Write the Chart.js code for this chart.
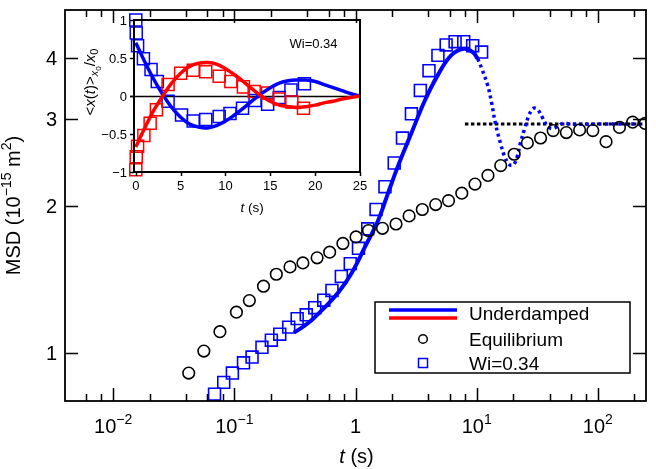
<!DOCTYPE html>
<html>
<head>
<meta charset="utf-8">
<script src="https://cdn.jsdelivr.net/npm/chart.js@4.4.1/dist/chart.umd.min.js"></script>
<style>
html,body{margin:0;padding:0;background:#fff;}
#wrap{position:relative;width:656px;height:469px;overflow:hidden;}
#main{position:absolute;left:0;top:0;}
#inset{position:absolute;left:70px;top:6px;}
</style>
</head>
<body>
<div id="wrap">
<canvas id="main" width="656" height="469"></canvas>
<canvas id="inset" width="300" height="214"></canvas>
</div>
<script>
/* =====================================
   MSD vs t  (main)  +  inset <x(t)>/x0
===================================== */

const FONT = '"Liberation Sans", Arial, Helvetica, sans-serif';

/* ---------- main data ---------- */

// Equilibrium (black circles)
const eqT = [0.042, 0.056, 0.076, 0.104, 0.133, 0.174, 0.222, 0.288, 0.368, 0.482, 0.612, 0.787, 1.01, 1.28, 1.67, 2.16, 2.77, 3.56, 4.59, 5.86, 7.54, 9.69, 12.4, 15.8, 20.4, 26.2, 33.7, 42.8, 55.0, 70.8, 91.0, 117, 151, 194, 246];
const eqMSD = [0.912, 1.011, 1.107, 1.213, 1.281, 1.370, 1.449, 1.500, 1.528, 1.565, 1.607, 1.674, 1.726, 1.779, 1.797, 1.834, 1.905, 1.963, 2.009, 2.046, 2.119, 2.211, 2.303, 2.411, 2.543, 2.682, 2.744, 2.841, 2.815, 2.850, 2.841, 2.698, 2.884, 2.956, 2.938];

// Wi=0.34 (blue squares)
const wiT = [0.0686, 0.0817, 0.0963, 0.119, 0.140, 0.169, 0.202, 0.237, 0.281, 0.330, 0.392, 0.461, 0.547, 0.639, 0.764, 0.905, 1.058, 1.261, 1.478, 1.751, 2.087, 2.442, 2.894, 3.429, 4.043, 4.79, 5.60, 6.64, 7.82, 9.27, 10.99];
const wiMSD = [0.826, 0.873, 0.912, 0.957, 0.983, 1.029, 1.064, 1.094, 1.131, 1.177, 1.198, 1.239, 1.283, 1.343, 1.434, 1.523, 1.636, 1.793, 1.963, 2.184, 2.441, 2.744, 3.074, 3.429, 3.763, 4.042, 4.245, 4.31, 4.31, 4.23, 4.105];

// Underdamped fit (solid part)
const fitT = [0.31, 0.375, 0.438, 0.565, 0.726, 0.933, 1.20, 1.54, 1.86, 2.25, 2.89, 3.73, 4.79, 6.16, 7.82, 9.27, 10.2];
const fitMSD = [1.102, 1.136, 1.171, 1.245, 1.333, 1.46, 1.649, 1.867, 2.122, 2.411, 2.806, 3.268, 3.689, 4.042, 4.168, 4.105, 3.98];

// Underdamped fit (dotted continuation)
const extT = [10.2, 11.0, 12.3, 13.27, 14.31, 15.73, 16.96, 18.3, 19.36, 20.49, 21.69, 22.95, 24.74, 26.68, 28.78, 30.45, 32.2, 34.75, 38.2, 41.98, 46.1, 51.7, 61.2, 118.6, 238];
const extMSD = [3.98, 3.804, 3.52, 3.243, 2.933, 2.677, 2.523, 2.433, 2.411, 2.433, 2.523, 2.677, 2.854, 3.028, 3.141, 3.156, 3.126, 3.028, 2.907, 2.867, 2.893, 2.940, 2.927, 2.93, 2.93];

// plateau (black dotted)
const plateauT = [8.0, 240];
const plateauMSD = [2.93, 2.93];

// axes
const xTickVals = [0.01, 0.1, 1, 10, 100];
const xTickBase = ['10', '10', '1', '10', '10'];
const xTickExp = ['\u22122', '\u22121', '', '1', '2'];
const yTickVals = [1, 2, 3, 4];
const yTickLabels = ['1', '2', '3', '4'];

const legendLabels = ['Underdamped', 'Equilibrium', 'Wi=0.34'];

/* ---------- inset data ---------- */

const insT = [0, 1, 2, 3, 4, 5, 6, 7, 8, 9, 10, 11, 12, 13, 14, 15, 16, 17, 18, 19, 20, 21, 22, 23, 24, 25];
const insBlueLine = [0.70, 0.45, 0.22, 0.02, -0.15, -0.28, -0.37, -0.41, -0.42, -0.39, -0.33, -0.25, -0.16, -0.06, 0.03, 0.11, 0.17, 0.20, 0.21, 0.21, 0.19, 0.15, 0.11, 0.07, 0.03, 0.0];
const insRedLine = [-0.67, -0.42, -0.19, 0.0, 0.17, 0.30, 0.39, 0.43, 0.44, 0.42, 0.36, 0.28, 0.19, 0.09, 0.0, -0.07, -0.12, -0.14, -0.15, -0.14, -0.12, -0.09, -0.07, -0.04, -0.02, 0.0];

const insBlueSqT = [0, 0.05, 0.2, 0.85, 1.7, 2.4, 3.6, 5.1, 6.4, 7.8, 9.3, 10.5, 11.9, 13.3, 14.7, 16.0, 17.3, 18.8];
const insBlueSq = [1.0, 0.83, 0.66, 0.49, 0.35, 0.19, -0.07, -0.25, -0.33, -0.31, -0.27, -0.23, -0.16, -0.06, -0.11, -0.02, 0.08, 0.16];
const insRedSqT = [0, 0.05, 0.2, 0.9, 1.6, 2.3, 3.6, 5.0, 6.4, 7.8, 9.3, 10.6, 12.0, 13.2, 14.7, 16.0, 17.4, 18.7];
const insRedSq = [-0.97, -0.80, -0.66, -0.52, -0.36, -0.18, 0.15, 0.30, 0.34, 0.32, 0.26, 0.19, 0.12, 0.06, 0.04, -0.04, -0.08, -0.16];

const insXTicks = [0, 5, 10, 15, 20, 25];
const insYTicks = [-1, -0.5, 0, 0.5, 1];
const insYLabels = ['\u22121', '\u22120.5', '0', '0.5', '1'];

/* ---------- helpers ---------- */

function pts(xs, ys){
    return xs.map((v, i) => ({x: v, y: ys[i]}));
}

function richWidth(ctx, parts){
    let w = 0;
    parts.forEach(p => { ctx.font = p.f; w += ctx.measureText(p.t).width; });
    return w;
}

function drawRich(ctx, parts, x, y, align){
    const w = richWidth(ctx, parts);
    let cx = align === 'center' ? x - w / 2 : (align === 'right' ? x - w : x);
    ctx.textAlign = 'left';
    ctx.textBaseline = 'alphabetic';
    parts.forEach(p => {
        ctx.font = p.f;
        ctx.fillText(p.t, cx, y + (p.dy || 0));
        cx += ctx.measureText(p.t).width;
    });
}

/* ---------- main frame / ticks / labels / legend ---------- */

const mainDecor = {
    id: 'mainDecor',
    afterDatasetsDraw(chart){
        const {ctx, chartArea: a} = chart;
        const x = chart.scales.x, y = chart.scales.y;
        ctx.save();
        ctx.strokeStyle = '#000';
        ctx.fillStyle = '#000';
        ctx.lineWidth = 1.8;
        ctx.strokeRect(a.left, a.top, a.right - a.left, a.bottom - a.top);

        // x ticks (inward, bottom + top)
        ctx.lineWidth = 1.5;
        const drawX = (v, len) => {
            const px = Math.round(x.getPixelForValue(v)) + 0.5;
            ctx.beginPath();
            ctx.moveTo(px, a.bottom); ctx.lineTo(px, a.bottom - len);
            ctx.moveTo(px, a.top); ctx.lineTo(px, a.top + len);
            ctx.stroke();
        };
        for(let e = -3; e <= 2; e++){
            [2, 4, 6, 8].forEach(m => {
                const v = m * Math.pow(10, e);
                if(v > x.min && v < x.max) drawX(v, 7);
            });
        }
        xTickVals.forEach(v => drawX(v, 13));

        // y ticks (inward, left + right)
        yTickVals.forEach(v => {
            const py = Math.round(y.getPixelForValue(v)) + 0.5;
            ctx.beginPath();
            ctx.moveTo(a.left, py); ctx.lineTo(a.left + 13, py);
            ctx.moveTo(a.right, py); ctx.lineTo(a.right - 13, py);
            ctx.stroke();
        });

        // tick labels
        const big = '20px ' + FONT, small = '14px ' + FONT;
        xTickVals.forEach((v, i) => {
            const parts = [{t: xTickBase[i], f: big}];
            if(xTickExp[i]) parts.push({t: xTickExp[i], f: small, dy: -9});
            drawRich(ctx, parts, x.getPixelForValue(v), 433, 'center');
        });
        yTickVals.forEach((v, i) => {
            drawRich(ctx, [{t: yTickLabels[i], f: big}], 57, y.getPixelForValue(v) + 7, 'right');
        });

        // axis titles
        drawRich(ctx, [
            {t: 't', f: 'italic 20px ' + FONT},
            {t: ' (s)', f: big}
        ], (a.left + a.right) / 2 + 1, 463, 'center');

        ctx.save();
        ctx.translate(13, (a.top + a.bottom) / 2);
        ctx.rotate(-Math.PI / 2);
        drawRich(ctx, [
            {t: 'MSD (10', f: big},
            {t: '\u221215', f: small, dy: -9},
            {t: ' m', f: big},
            {t: '2', f: small, dy: -9},
            {t: ')', f: big}
        ], 0, 7, 'center');
        ctx.restore();

        // legend
        const lx = 375, ly = 302, lw = 255, lh = 71;
        ctx.fillStyle = '#fff';
        ctx.fillRect(lx, ly, lw, lh);
        ctx.lineWidth = 1.5;
        ctx.strokeStyle = '#000';
        ctx.strokeRect(lx, ly, lw, lh);

        ctx.lineWidth = 3.5;
        ctx.strokeStyle = '#0000ff';
        ctx.beginPath(); ctx.moveTo(389, 310); ctx.lineTo(457, 310); ctx.stroke();
        ctx.strokeStyle = '#ff0000';
        ctx.beginPath(); ctx.moveTo(389, 318); ctx.lineTo(457, 318); ctx.stroke();

        ctx.lineWidth = 1.5;
        ctx.strokeStyle = '#000';
        ctx.beginPath(); ctx.arc(423, 339, 4.3, 0, Math.PI * 2); ctx.stroke();
        ctx.strokeStyle = '#0000ff';
        ctx.strokeRect(418.5, 358.5, 9, 9);

        ctx.fillStyle = '#000';
        const lf = '19px ' + FONT;
        drawRich(ctx, [{t: legendLabels[0], f: lf}], 469, 320, 'left');
        drawRich(ctx, [{t: legendLabels[1], f: lf}], 469, 345.5, 'left');
        drawRich(ctx, [{t: legendLabels[2], f: lf}], 469, 370, 'left');

        ctx.restore();
    }
};

new Chart(document.getElementById('main'), {
    type: 'scatter',
    data: {
        datasets: [
            {
                label: 'Underdamped',
                data: pts(fitT, fitMSD),
                showLine: true,
                pointRadius: 0,
                borderColor: '#0000ff',
                borderWidth: 4,
                tension: 0.4,
                order: 3
            },
            {
                label: 'Underdamped (extrapolated)',
                data: pts(extT, extMSD),
                showLine: true,
                pointRadius: 0,
                borderColor: '#0000ff',
                borderWidth: 3.5,
                borderDash: [3, 3.5],
                tension: 0.4,
                order: 4
            },
            {
                label: 'Plateau',
                data: pts(plateauT, plateauMSD),
                showLine: true,
                pointRadius: 0,
                borderColor: '#000',
                borderWidth: 3,
                borderDash: [3.5, 2.5],
                order: 5
            },
            {
                label: 'Equilibrium',
                data: pts(eqT, eqMSD),
                pointStyle: 'circle',
                pointRadius: 5.8,
                borderWidth: 1.6,
                borderColor: '#000',
                backgroundColor: 'rgba(0,0,0,0)',
                order: 1
            },
            {
                label: 'Wi=0.34',
                data: pts(wiT, wiMSD),
                pointStyle: 'rect',
                pointRadius: 8.4,
                borderWidth: 1.6,
                borderColor: '#0000ff',
                backgroundColor: 'rgba(0,0,0,0)',
                order: 2
            }
        ]
    },
    options: {
        responsive: false,
        animation: false,
        devicePixelRatio: 1,
        events: [],
        layout: {padding: {left: 65, right: 5, top: 1, bottom: 68}},
        plugins: {legend: {display: false}, tooltip: {enabled: false}},
        scales: {
            x: {type: 'logarithmic', min: 0.004, max: 250, display: false},
            y: {type: 'logarithmic', min: 0.8, max: 5, display: false}
        }
    },
    plugins: [mainDecor]
});

/* ---------- inset ---------- */

const insetDecor = {
    id: 'insetDecor',
    beforeDatasetsDraw(chart){
        const {ctx, chartArea: a} = chart;
        const y = chart.scales.y;
        ctx.save();
        ctx.strokeStyle = '#000';
        ctx.lineWidth = 1.5;
        const p0 = Math.round(y.getPixelForValue(0)) + 0.5;
        ctx.beginPath(); ctx.moveTo(a.left - 4, p0); ctx.lineTo(a.right, p0); ctx.stroke();
        ctx.restore();
    },
    afterDatasetsDraw(chart){
        const {ctx, chartArea: a} = chart;
        const x = chart.scales.x, y = chart.scales.y;
        ctx.save();
        ctx.strokeStyle = '#000';
        ctx.fillStyle = '#000';
        ctx.lineWidth = 2;
        ctx.strokeRect(a.left, a.top, a.right - a.left, a.bottom - a.top);

        ctx.lineWidth = 1.5;
        insXTicks.forEach(v => {
            const px = Math.round(x.getPixelForValue(v)) + 0.5;
            ctx.beginPath(); ctx.moveTo(px, a.bottom); ctx.lineTo(px, a.bottom + 4); ctx.stroke();
        });
        insYTicks.forEach(v => {
            const py = Math.round(y.getPixelForValue(v)) + 0.5;
            ctx.beginPath(); ctx.moveTo(a.left, py); ctx.lineTo(a.left - 4, py); ctx.stroke();
        });

        const f = '13px ' + FONT;
        insXTicks.forEach(v => {
            drawRich(ctx, [{t: String(v), f: f}], x.getPixelForValue(v), 184, 'center');
        });
        insYTicks.forEach((v, i) => {
            drawRich(ctx, [{t: insYLabels[i], f: f}], a.left - 7, y.getPixelForValue(v) + 4.7, 'right');
        });

        drawRich(ctx, [
            {t: 't', f: 'italic 13.5px ' + FONT},
            {t: ' (s)', f: '13.5px ' + FONT}
        ], 182, 205.5, 'center');

        drawRich(ctx, [{t: 'Wi=0.34', f: f}], 243.5, 41.5, 'center');

        ctx.save();
        ctx.translate(15, 76);
        ctx.rotate(-Math.PI / 2);
        const it = 'italic 15px ' + FONT, nm = '15px ' + FONT;
        drawRich(ctx, [
            {t: '<', f: nm},
            {t: 'x', f: it},
            {t: '(', f: nm},
            {t: 't', f: it},
            {t: ')>', f: nm},
            {t: 'x', f: 'italic 11px ' + FONT, dy: 3},
            {t: '0', f: '8px ' + FONT, dy: 5.5},
            {t: '/', f: nm},
            {t: 'x', f: it},
            {t: '0', f: '11px ' + FONT, dy: 3}
        ], 0, 10, 'center');
        ctx.restore();

        ctx.restore();
    }
};

new Chart(document.getElementById('inset'), {
    type: 'scatter',
    data: {
        datasets: [
            {
                label: 'Underdamped blue',
                data: pts(insT, insBlueLine),
                showLine: true,
                pointRadius: 0,
                borderColor: '#0000ff',
                borderWidth: 3.5,
                tension: 0.4,
                order: 1
            },
            {
                label: 'Underdamped red',
                data: pts(insT, insRedLine),
                showLine: true,
                pointRadius: 0,
                borderColor: '#ff0000',
                borderWidth: 3.5,
                tension: 0.4,
                order: 0
            },
            {
                label: 'Wi=0.34 blue',
                data: pts(insBlueSqT, insBlueSq),
                pointStyle: 'rect',
                pointRadius: 8.5,
                borderWidth: 1.5,
                borderColor: '#0000ff',
                backgroundColor: 'rgba(0,0,0,0)',
                clip: false,
                order: 3
            },
            {
                label: 'Wi=0.34 red',
                data: pts(insRedSqT, insRedSq),
                pointStyle: 'rect',
                pointRadius: 8.5,
                borderWidth: 1.5,
                borderColor: '#ff0000',
                backgroundColor: 'rgba(0,0,0,0)',
                clip: false,
                order: 2
            }
        ]
    },
    options: {
        responsive: false,
        animation: false,
        devicePixelRatio: 1,
        events: [],
        layout: {padding: {left: 64, right: 7, top: 14, bottom: 48}},
        plugins: {legend: {display: false}, tooltip: {enabled: false}},
        scales: {
            x: {type: 'linear', min: -0.2, max: 25, display: false},
            y: {type: 'linear', min: -1, max: 1, display: false}
        }
    },
    plugins: [insetDecor]
});
</script>
</body>
</html>
